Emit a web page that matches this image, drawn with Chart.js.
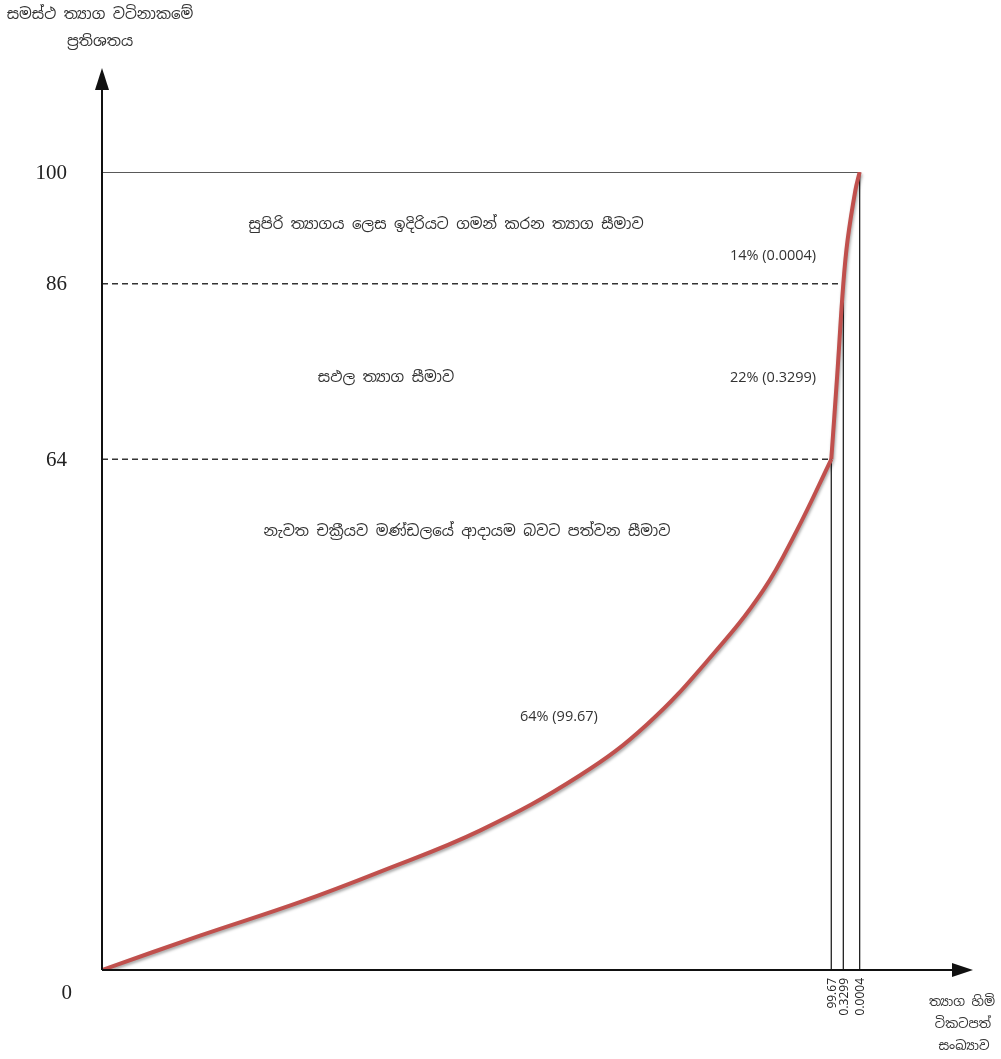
<!DOCTYPE html>
<html>
<head>
<meta charset="utf-8">
<script src="https://cdn.jsdelivr.net/npm/chart.js@4.4.1/dist/chart.umd.min.js"></script>
<style>
  html, body { margin: 0; padding: 0; background: #ffffff; }
  #wrap { width: 1001px; height: 1059px; position: relative; }
</style>
</head>
<body>
<div id="wrap"><canvas id="c" width="1001" height="1059"></canvas></div>
<script>
// ---- data (schematic cumulative curve) ----
const curveX = [0, 11.4, 23.0, 32.3, 44.0, 55.6, 63.4, 71.0, 76.9, 80.8, 84.8, 85.5, 86.2, 86.7, 87.6, 88.1];
const curveY = [0, 4.3, 8.5, 12.3, 17.5, 24.4, 30.8, 39.5, 47.6, 55.1, 64, 74.7, 86, 91.5, 97.7, 100];
const levelValues = [64, 86, 100];              // y levels of the bands
const boundaryX = [84.8, 86.2, 88.1];           // x of boundaries on the curve
const boundaryTop = [64, 85.4, 100];            // heights of vertical boundary lines
const xTickLabels = ['99.67', '0.3299', '0.0004'];
const yTickLabels = ['0', '64', '86', '100'];
const yTickValues = [0, 64, 86, 100];
const shareLabels = ['64% (99.67)', '22% (0.3299)', '14% (0.0004)'];
const bandLabels = [
  'නැවත චක්‍රීයව මණ්ඩලයේ ආදායම බවට පත්වන සීමාව',
  'සඵල ත්‍යාග සීමාව',
  'සුපිරි ත්‍යාගය ලෙස ඉදිරියට ගමන් කරන ත්‍යාග සීමාව'
];
const yTitle = ['සමස්ථ ත්‍යාග වටිනාකමේ', 'ප්‍රතිශතය'];
const xTitle = ['ත්‍යාග හිමි', 'ටිකටපත්', 'සංඛ්‍යාව'];

const SIN = '"Noto Sans Sinhala", "Iskoola Pota", "Noto Sans", "DejaVu Sans", sans-serif';

const split = curveY.indexOf(64);
const pts = curveX.map((x, i) => ({x, y: curveY[i]}));
const lowerPts = pts.slice(0, split + 1);
const upperPts = pts.slice(split);

function seg(x1, y1, x2, y2) { return [{x: x1, y: y1}, {x: x2, y: y2}]; }

const refDatasets = [];
// 100 solid horizontal line
refDatasets.push({ data: seg(0, levelValues[2], boundaryX[2], levelValues[2]), borderColor: '#222', borderWidth: 1.3, pointRadius: 0, tension: 0, order: 5 });
// dashed 86 and 64
refDatasets.push({ data: seg(0, levelValues[1], boundaryX[1], levelValues[1]), borderColor: '#333', borderWidth: 1.5, borderDash: [6, 4], pointRadius: 0, tension: 0, order: 5 });
refDatasets.push({ data: seg(0, levelValues[0], boundaryX[0], levelValues[0]), borderColor: '#333', borderWidth: 1.5, borderDash: [6, 4], pointRadius: 0, tension: 0, order: 5 });
// vertical boundary lines
boundaryX.forEach((bx, i) => {
  refDatasets.push({ data: seg(bx, 0, bx, boundaryTop[i]), borderColor: '#222', borderWidth: 1.3, pointRadius: 0, tension: 0, order: 5 });
});

const curveStyle = { borderColor: '#c0504d', borderWidth: 4, pointRadius: 0, tension: 0.4, order: 1, isCurve: true };

const decor = {
  id: 'decor',
  beforeDatasetDraw(chart, args) {
    const ds = chart.data.datasets[args.index];
    if (ds.isCurve) {
      const ctx = chart.ctx;
      ctx.save();
      ctx.shadowColor = 'rgba(0,0,0,0.35)';
      ctx.shadowBlur = 3;
      ctx.shadowOffsetX = 1;
      ctx.shadowOffsetY = 2;
    }
  },
  afterDatasetDraw(chart, args) {
    const ds = chart.data.datasets[args.index];
    if (ds.isCurve) chart.ctx.restore();
  },
  afterDraw(chart) {
    const ctx = chart.ctx;
    const xs = chart.scales.x, ys = chart.scales.y;
    const x0 = xs.getPixelForValue(0), y0 = ys.getPixelForValue(0);
    ctx.save();
    // axes
    ctx.strokeStyle = '#111'; ctx.fillStyle = '#111'; ctx.lineWidth = 2;
    ctx.beginPath();
    ctx.moveTo(x0, y0); ctx.lineTo(x0, 88);
    ctx.moveTo(x0, y0); ctx.lineTo(955, y0);
    ctx.stroke();
    // arrowheads
    ctx.beginPath();
    ctx.moveTo(x0, 68); ctx.lineTo(x0 - 7, 90); ctx.lineTo(x0 + 7, 90); ctx.closePath(); ctx.fill();
    ctx.beginPath();
    ctx.moveTo(973, y0); ctx.lineTo(952, y0 - 7); ctx.lineTo(952, y0 + 7); ctx.closePath(); ctx.fill();

    // y tick labels
    ctx.fillStyle = '#222';
    ctx.font = '21px "Liberation Serif", "Times New Roman", serif';
    ctx.textAlign = 'right'; ctx.textBaseline = 'middle';
    yTickValues.forEach((v, i) => {
      if (v === 0) {
        ctx.fillText(yTickLabels[i], 72, y0 + 23);
      } else {
        ctx.fillText(yTickLabels[i], 67, ys.getPixelForValue(v) + 1);
      }
    });

    // x rotated labels
    ctx.font = '12px "Open Sans", "Liberation Sans", sans-serif';
    ctx.fillStyle = '#222';
    boundaryX.forEach((bx, i) => {
      const px = xs.getPixelForValue(bx);
      ctx.save();
      ctx.translate(px + 1, y0 + 8);
      ctx.rotate(-Math.PI / 2);
      ctx.textAlign = 'right'; ctx.textBaseline = 'middle';
      ctx.fillText(xTickLabels[i], 0, 0);
      ctx.restore();
    });

    // titles
    ctx.fillStyle = '#333';
    ctx.font = '15px ' + SIN;
    ctx.textAlign = 'center'; ctx.textBaseline = 'middle';
    ctx.fillText(yTitle[0], 100, 15);
    ctx.fillText(yTitle[1], 100, 42);
    ctx.font = '13px ' + SIN;
    ctx.fillText(xTitle[0], 962, 1002);
    ctx.fillText(xTitle[1], 963, 1024);
    ctx.fillText(xTitle[2], 964, 1046);

    // band labels
    ctx.font = '15px ' + SIN;
    ctx.fillStyle = '#333';
    ctx.fillText(bandLabels[2], 446, 225);
    ctx.fillText(bandLabels[1], 386, 378);
    ctx.fillText(bandLabels[0], 467, 532);

    // share labels
    ctx.font = '14.5px "Open Sans", "Liberation Sans", sans-serif';
    ctx.fillStyle = '#333';
    ctx.textAlign = 'left';
    ctx.fillText(shareLabels[2], 730, 256);
    ctx.fillText(shareLabels[1], 730, 378);
    ctx.fillText(shareLabels[0], 520, 717);
    ctx.restore();
  }
};

new Chart(document.getElementById('c'), {
  type: 'scatter',
  data: {
    datasets: [
      Object.assign({ data: lowerPts, showLine: true }, curveStyle),
      Object.assign({ data: upperPts, showLine: true }, curveStyle),
      ...refDatasets.map(d => Object.assign({ showLine: true }, d))
    ]
  },
  options: {
    responsive: false,
    animation: false,
    devicePixelRatio: 1,
    layout: { padding: { left: 102, top: 172, right: 39, bottom: 89 } },
    plugins: { legend: { display: false }, tooltip: { enabled: false } },
    scales: {
      x: { type: 'linear', min: 0, max: 100, display: false },
      y: { type: 'linear', min: 0, max: 100, display: false }
    }
  },
  plugins: [decor]
});
</script>
</body>
</html>
